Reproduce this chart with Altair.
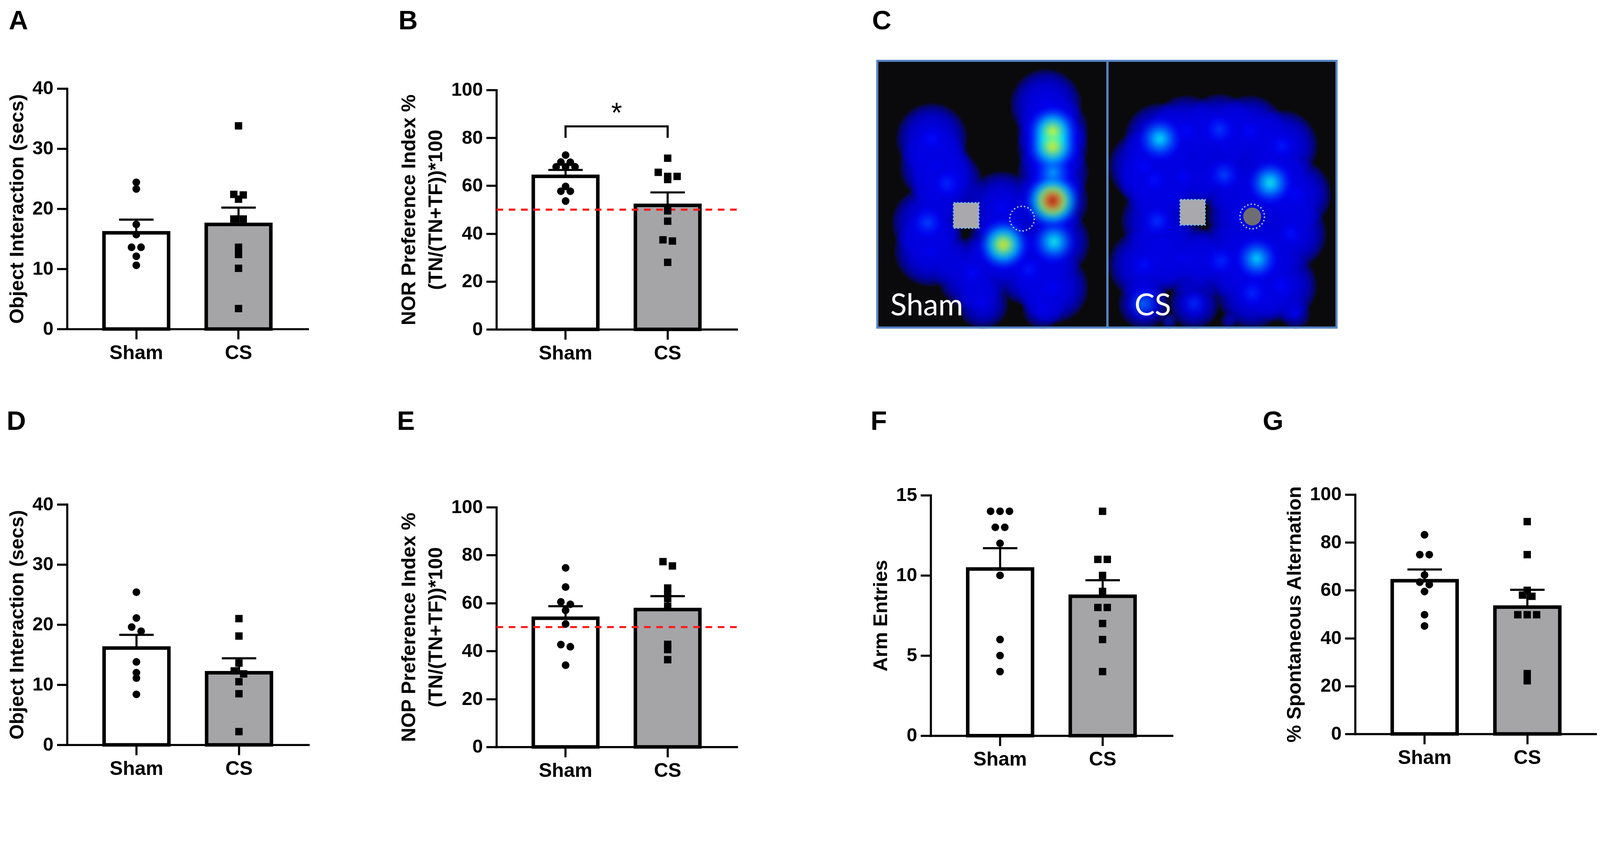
import math
import altair as alt
import pandas as pd

FONT = "Liberation Sans"
GROUPS = ["Sham", "CS"]
BAR_FILL = ["#ffffff", "#a5a5a8"]

# ---------------- values ----------------
A_SHAM = [24.4, 23.3, 17.4, 15.7, 13.6, 13.6, 12.1, 10.6]
A_CS = [33.8, 22.4, 22.3, 21.6, 18.3, 18.3, 13.6, 12.4, 10.1, 3.4]
A_MEAN = [16.0, 17.4]
A_SEM = [2.2, 2.8]

B_SHAM = [72.8, 69.8, 69.9, 67.9, 67.9, 67.9, 59.7, 57.7, 57.7, 53.6]
B_CS = [71.5, 65.6, 63.9, 63.9, 62.6, 49.5, 45.2, 37.4, 36.9, 28.0]
B_MEAN = [63.9, 51.8]
B_SEM = [2.7, 5.4]

D_SHAM = [25.4, 21.1, 19.6, 18.9, 13.8, 12.0, 11.1, 8.4]
D_CS = [21.0, 18.1, 13.6, 12.3, 11.8, 10.5, 8.5, 2.2]
D_MEAN = [16.1, 12.0]
D_SEM = [2.2, 2.4]

E_SHAM = [74.7, 66.7, 60.5, 59.5, 57.0, 51.3, 42.7, 41.8, 34.1]
E_CS = [77.3, 75.5, 66.3, 63.8, 61.9, 58.7, 42.8, 40.6, 36.4]
E_MEAN = [53.7, 57.3]
E_SEM = [5.0, 5.6]

F_SHAM = [14, 14, 14, 13, 13, 12, 10, 6, 5, 4]
F_CS = [14, 11, 11, 10, 9, 8, 8, 7, 6, 4]
F_MEAN = [10.4, 8.7]
F_SEM = [1.3, 1.0]

G_SHAM = [83.2, 74.9, 74.9, 66.4, 63.4, 62.4, 59.5, 49.8, 45.1]
G_CS = [88.7, 74.9, 60.0, 58.0, 57.5, 49.8, 49.8, 49.8, 25.2, 22.2]
G_MEAN = [64.0, 53.0]
G_SEM = [4.7, 7.2]

CHANCE = [50]                 # red dashed chance line (B, E)
SIG_BRACKET = [80.0, 84.8]    # bracket leg bottom / bracket top (B)
SIG_STAR_Y = [86.5]
SIG_TEXT = ["*"]

# Panel C: heat-map tiles (arena units), hot-spots (peak level on the jet scale) and objects
TILE_NAME = ["Sham", "CS"]
TILE_X0 = [0, 655]
TILE_X1 = [655, 1307]
TILE_Y0 = [0, 0]
TILE_Y1 = [759, 759]

HEAT_X = [499, 499, 500, 499, 359, 503, 155, 165, 198, 143, 150, 355, 270, 431, 300, 470, 499, 480,
          804, 1118, 1080, 974, 987, 796, 978, 758, 902, 1067, 1152, 1177, 870, 1040, 790, 1150,
          870, 880, 1060, 760, 1190, 830, 1000, 760, 1190]
HEAT_Y = [200, 244, 318, 398, 523, 515, 222, 300, 349, 461, 540, 416, 604, 594, 690, 705, 645, 125,
          222, 347, 563, 196, 324, 456, 569, 691, 691, 660, 242, 492, 330, 440, 340, 640,
          560, 200, 200, 580, 720, 740, 740, 300, 380]
HEAT_I = [0.64, 0.66, 0.32, 0.97, 0.67, 0.42, 0.15, 0.12, 0.18, 0.21, 0.12, 0.13, 0.14, 0.16, 0.12, 0.12, 0.13, 0.12,
          0.40, 0.42, 0.38, 0.20, 0.21, 0.19, 0.18, 0.25, 0.18, 0.18, 0.16, 0.15, 0.13, 0.14, 0.15, 0.14,
          0.12, 0.14, 0.14, 0.15, 0.13, 0.15, 0.13, 0.14, 0.14]

OBJ_SQ_X0 = [217, 862]
OBJ_SQ_X1 = [289, 933]
OBJ_SQ_Y0 = [404, 395]
OBJ_SQ_Y1 = [476, 467]
OBJ_CIR_X = [412, 1067]
OBJ_CIR_Y = [449, 443]
OBJ_CIR_PRESENT = [False, True]

C_TEXT = ["Sham", "CS"]
C_TEXT_X = [37, 732]
C_TEXT_Y = [724, 724]

# ---------------- helpers ----------------
P_IN, P_OUT = 0.368, 0.361


def swarm(values, ppu, gap=27.0, tol=12.5):
    order = sorted(range(len(values)), key=lambda i: -values[i])
    rows = []
    for i in order:
        if rows and (values[rows[-1][0]] - values[i]) * ppu <= tol:
            rows[-1].append(i)
        else:
            rows.append([i])
    offs = [0.0] * len(values)
    for row in rows:
        n = len(row)
        for k, i in enumerate(row):
            offs[i] = (k - (n - 1) / 2) * gap
    return offs


def title(label, dx, dy):
    return alt.TitleParams(text=label, anchor="start", frame="group", dx=dx, dy=dy, offset=0,
                           font=FONT, fontSize=76, fontWeight="bold", color="black")


def bar_panel(label, sham, cs, mean, sem, ymax, tick_step, ytitle, cell_w, plot_w, height,
              y_top, y_bottom, label_dx, label_dy, chance=None, sig=False):
    ppu = (y_bottom - y_top) / ymax
    step = plot_w / (2 - P_IN + 2 * P_OUT)
    bw = step * (1 - P_IN)

    bars = pd.DataFrame({"group": GROUPS, "mean": mean,
                         "top": [m + s for m, s in zip(mean, sem)]})
    pts = pd.DataFrame({
        "group": ["Sham"] * len(sham) + ["CS"] * len(cs),
        "value": list(sham) + list(cs),
        "off": swarm(sham, ppu) + swarm(cs, ppu),
    })

    xscale = alt.Scale(domain=GROUPS, range=[0, plot_w], paddingInner=P_IN, paddingOuter=P_OUT)
    xaxis = alt.Axis(title=None, labelAngle=0)
    yscale = alt.Scale(domain=[0, ymax], range=[y_bottom, y_top], nice=False, zero=False)
    yaxis = alt.Axis(title=ytitle, values=list(range(0, ymax + 1, tick_step)))

    def X():
        return alt.X("group:N", sort=GROUPS, scale=xscale, axis=xaxis)

    def Y(f):
        return alt.Y(f, scale=yscale, axis=yaxis)

    offs = alt.XOffset("off:Q", scale=alt.Scale(domain=[-bw / 2, bw / 2]))

    layers = [
        alt.Chart(bars).mark_bar(stroke="black", strokeWidth=10, size=bw).encode(
            x=X(), y=Y("mean:Q"),
            fill=alt.Fill("group:N", scale=alt.Scale(domain=GROUPS, range=BAR_FILL), legend=None)),
    ]
    if chance is not None:
        layers.append(
            alt.Chart(pd.DataFrame({"c": chance})).mark_rule(
                color="#ff1a1a", strokeWidth=6, strokeDash=[19, 16]).encode(
                y=Y("c:Q"), x=alt.value(0), x2=alt.value(plot_w)))
    layers += [
        alt.Chart(bars).mark_rule(color="black", strokeWidth=6).encode(
            x=X(), y=Y("mean:Q"), y2="top:Q"),
        alt.Chart(bars).mark_tick(color="black", thickness=6, size=98, opacity=1).encode(
            x=X(), y=Y("top:Q")),
        alt.Chart(pts).transform_filter(alt.datum.group == "Sham").mark_point(
            shape="circle", filled=True, size=480, color="black", opacity=1).encode(
            x=X(), xOffset=offs, y=Y("value:Q")),
        alt.Chart(pts).transform_filter(alt.datum.group == "CS").mark_point(
            shape="square", filled=True, size=440, color="black", opacity=1).encode(
            x=X(), xOffset=offs, y=Y("value:Q")),
    ]
    if sig:
        br = pd.DataFrame({"group": ["Sham", "Sham", "CS", "CS"],
                           "v": [SIG_BRACKET[0], SIG_BRACKET[1], SIG_BRACKET[1], SIG_BRACKET[0]],
                           "k": [0, 1, 2, 3]})
        layers.append(alt.Chart(br).mark_line(color="black", strokeWidth=6, strokeJoin="miter").encode(
            x=X(), y=Y("v:Q"), order="k:Q"))
        layers.append(alt.Chart(pd.DataFrame({"t": SIG_TEXT, "v": SIG_STAR_Y})).mark_text(
            font=FONT, fontSize=80, color="black", baseline="alphabetic", align="center").encode(
            x=alt.value(plot_w / 2), y=Y("v:Q"), text="t:N"))

    return alt.layer(*layers).properties(width=cell_w, height=height,
                                         title=title(label, label_dx, label_dy))


def jet(v):
    v = max(0.0, min(1.0, v))

    def c(x):
        return int(round(255 * max(0.0, min(1.0, x))))
    return "#%02x%02x%02x" % (c(1.5 - abs(4 * v - 3)), c(1.5 - abs(4 * v - 2)),
                              c(1.5 - abs(4 * v - 1)))


def heat_panel(cell_w, height, x_left, label_dx, label_dy):
    cw = max(TILE_X1)
    ch = max(TILE_Y1)
    xs = alt.Scale(domain=[0, cw], range=[x_left, x_left + cw], nice=False, zero=False)
    ys = alt.Scale(domain=[0, ch], range=[0, height], nice=False, zero=False)

    tiles = pd.DataFrame({"name": TILE_NAME, "x0": TILE_X0, "x1": TILE_X1,
                          "y0": TILE_Y0, "y1": TILE_Y1})
    rows = []
    sigma = 60.0
    for bx, by, bi in zip(HEAT_X, HEAT_Y, HEAT_I):
        t = next(k for k in range(len(TILE_X0)) if TILE_X0[k] <= bx < TILE_X1[k])
        room = min(bx - TILE_X0[t], TILE_X1[t] - bx, by - TILE_Y0[t], TILE_Y1[t] - by)
        r = min(102.0, room + 4.0)
        while r > 3:
            v = max(0.10, bi * math.exp(-(r / sigma) ** 2))
            # vega symbol size = area of bounding square -> side = diameter
            rows.append(dict(x=bx, y=by, color=jet(v), size=(2 * r) ** 2, v=v))
            r -= 5.0
    rings = pd.DataFrame(rows).sort_values("v", kind="stable").reset_index(drop=True)
    rings["ord"] = range(len(rings))
    sq = pd.DataFrame({"x0": OBJ_SQ_X0, "x1": OBJ_SQ_X1, "y0": OBJ_SQ_Y0, "y1": OBJ_SQ_Y1})
    cir = pd.DataFrame({"x": OBJ_CIR_X, "y": OBJ_CIR_Y, "present": OBJ_CIR_PRESENT})
    txt = pd.DataFrame({"t": C_TEXT, "x": C_TEXT_X, "y": C_TEXT_Y})

    def X(f):
        return alt.X(f, scale=xs, axis=None)

    def Y(f):
        return alt.Y(f, scale=ys, axis=None)

    layers = [
        alt.Chart(tiles).mark_rect(fill="#0a0a0c").encode(
            x=X("x0:Q"), x2="x1:Q", y=Y("y0:Q"), y2="y1:Q"),
        alt.Chart(rings).mark_circle(strokeWidth=0, opacity=0.2).encode(
            x=X("x:Q"), y=Y("y:Q"),
            color=alt.Color("color:N", scale=None),
            size=alt.Size("size:Q", scale=None),
            order=alt.Order("ord:Q")),
        alt.Chart(sq).mark_rect(fill="#a9a9ad", stroke="#7fbcf5", strokeWidth=4,
                                strokeDash=[5, 5]).encode(
            x=X("x0:Q"), x2="x1:Q", y=Y("y0:Q"), y2="y1:Q"),
        alt.Chart(cir).transform_filter(alt.datum.present).mark_circle(
            color="#6e6e72", size=2600, opacity=1).encode(x=X("x:Q"), y=Y("y:Q")),
        alt.Chart(cir).mark_point(shape="circle", filled=False, size=4900, stroke="#a9d3ff",
                                  strokeWidth=4, strokeDash=[4, 6], opacity=1).encode(
            x=X("x:Q"), y=Y("y:Q")),
        alt.Chart(txt).mark_text(font="Lato", fontSize=86, color="white", align="left",
                                 baseline="alphabetic").encode(
            x=X("x:Q"), y=Y("y:Q"), text="t:N"),
        alt.Chart(tiles).mark_rect(fillOpacity=0, stroke="#5585c5", strokeWidth=6).encode(
            x=X("x0:Q"), x2="x1:Q", y=Y("y0:Q"), y2="y1:Q"),
    ]
    return alt.layer(*layers).properties(width=cell_w, height=height,
                                         title=title("C", label_dx, label_dy))


NOR_TITLE = ["NOR Preference Index %", "(TN/(TN+TF))*100"]
NOP_TITLE = ["NOP Preference Index %", "(TN/(TN+TF))*100"]

# grid columns start at 184 / 1406 / 2642 / 3850 (reference pixels)
COL_W = [1222, 1236, 1208, 688]

# row 1 cells start at the top of the heat-map box (y 168)
pA = bar_panel("A", A_SHAM, A_CS, A_MEAN, A_SEM, 40, 10, "Object Interaction (secs)",
               COL_W[0], 685, 763, 79, 763, -166, -74)
pB = bar_panel("B", B_SHAM, B_CS, B_MEAN, B_SEM, 100, 20, NOR_TITLE,
               COL_W[1], 684, 764, 83, 764, -279, -74, chance=CHANCE, sig=True)
pC = heat_panel(COL_W[2], 759, -152, -167, -71)
spacer = alt.Chart(pd.DataFrame({"v": [0.5]})).mark_point(opacity=0).encode(
    x=alt.X("v:Q", axis=None, scale=alt.Scale(domain=[0, 1])),
    y=alt.Y("v:Q", axis=None, scale=alt.Scale(domain=[0, 1]))).properties(width=1, height=1)

# row 2 cells start at y 1402
pD = bar_panel("D", D_SHAM, D_CS, D_MEAN, D_SEM, 40, 10, "Object Interaction (secs)",
               COL_W[0], 687, 712, 28, 712, -172, -168)
pE = bar_panel("E", E_SHAM, E_CS, E_MEAN, E_SEM, 100, 20, NOP_TITLE,
               COL_W[1], 684, 718, 36, 718, -283, -168, chance=CHANCE)
pF = bar_panel("F", F_SHAM, F_CS, F_MEAN, F_SEM, 15, 5, "Arm Entries",
               COL_W[2], 687, 686, 2, 686, -171, -143)
pG = bar_panel("G", G_SHAM, G_CS, G_MEAN, G_SEM, 100, 20, "% Spontaneous Alternation",
               COL_W[3], 688, 681, 0, 681, -263, -141)

chart = alt.concat(pA, pB, pC, spacer, pD, pE, pF, pG, columns=4,
                   spacing={"row": 470, "column": 0}, bounds="flush", align="each").properties(
    padding={"left": 10, "top": -104, "right": 0, "bottom": 0}, background="white"
).configure_view(strokeWidth=0).configure_axis(
    domainColor="black", domainWidth=6, domainCap="square",
    tickColor="black", tickWidth=6, tickSize=29, tickCap="butt",
    labelColor="black", labelFont=FONT, labelFontWeight="bold", labelFontSize=54,
    labelPadding=10, labelFlush=False, labelOverlap=False,
    titleColor="black", titleFont=FONT, titleFontWeight="bold", titleFontSize=56,
    titlePadding=14, titleLineHeight=76, grid=False
).configure_axisX(labelFontSize=56, labelPadding=12)

chart.save("out.html", embed_options={"renderer": "svg", "actions": False})
